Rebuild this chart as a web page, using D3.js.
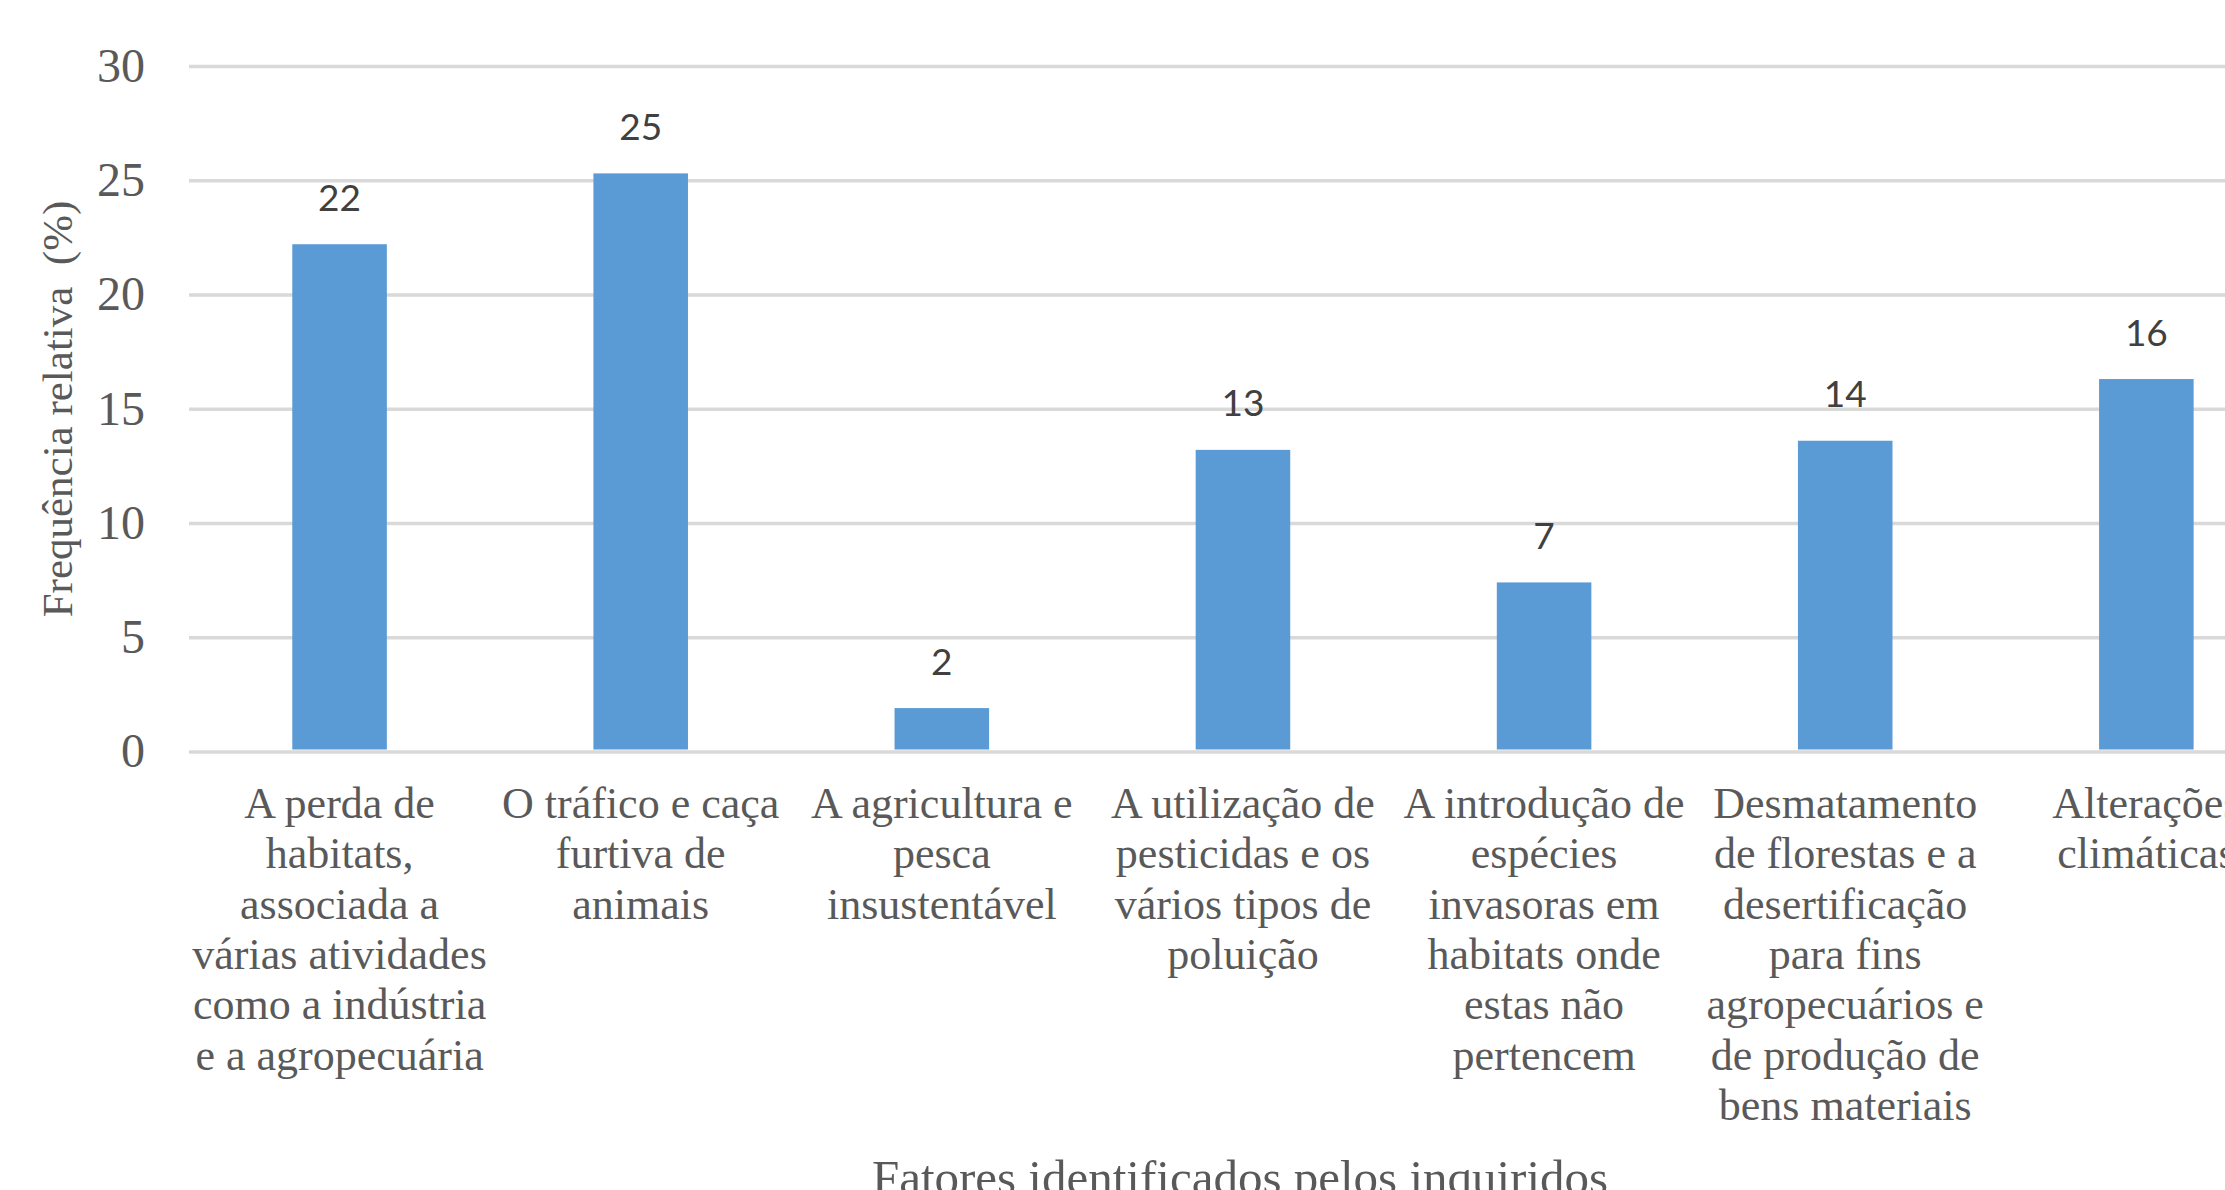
<!DOCTYPE html>
<html>
<head>
<meta charset="utf-8">
<script src="https://cdn.jsdelivr.net/npm/d3@7"></script>
<style>
  html, body { margin: 0; padding: 0; background: #ffffff; overflow: hidden; }
  svg { display: block; }
</style>
</head>
<body>
<script>
// ---- Data ----
const categories = [
  "A perda de habitats, associada a várias atividades como a indústria e a agropecuária",
  "O tráfico e caça furtiva de animais",
  "A agricultura e pesca insustentável",
  "A utilização de pesticidas e os vários tipos de poluição",
  "A introdução de espécies invasoras em habitats onde estas não pertencem",
  "Desmatamento de florestas e a desertificação para fins agropecuários e de produção de bens materiais",
  "Alterações climáticas"
];
const categoryLines = [
  ["A perda de", "habitats,", "associada a", "várias atividades", "como a indústria", "e a agropecuária"],
  ["O tráfico e caça", "furtiva de", "animais"],
  ["A agricultura e", "pesca", "insustentável"],
  ["A utilização de", "pesticidas e os", "vários tipos de", "poluição"],
  ["A introdução de", "espécies", "invasoras em", "habitats onde", "estas não", "pertencem"],
  ["Desmatamento", "de florestas e a", "desertificação", "para fins", "agropecuários e", "de produção de", "bens materiais"],
  ["Alterações", "climáticas"]
];
const values = [22.2, 25.3, 1.9, 13.2, 7.4, 13.6, 16.3];
const yTicks = [0, 5, 10, 15, 20, 25, 30];
const yTitle = "Frequência relativa  (%)";
const xTitle = "Fatores identificados pelos inquiridos";

// ---- Layout ----
const W = 2225, H = 1190;
const x0 = 189, step = 301.13;
const x1 = x0 + step * categories.length;
const yBottom = 751.5, yTop = 66;

const svg = d3.select("body").append("svg")
  .attr("width", W).attr("height", H)
  .attr("viewBox", `0 0 ${W} ${H}`);
svg.append("rect").attr("width", W).attr("height", H).attr("fill", "#ffffff");

const x = d3.scaleBand()
  .domain(categories)
  .range([x0, x1])
  .paddingInner(0.686)
  .paddingOuter(0.343);

const y = d3.scaleLinear().domain([0, 30]).range([yBottom, yTop]);

const serif = "'Liberation Serif', 'Times New Roman', serif";
const textGray = "#595959";

// Y axis with gridlines
const yAxis = d3.axisLeft(y)
  .tickValues(yTicks)
  .tickSizeInner(-(W - x0 + 20))
  .tickSizeOuter(0)
  .tickPadding(44)
  .tickFormat(d3.format("d"));

const gy = svg.append("g")
  .attr("transform", `translate(${x0},0)`)
  .call(yAxis);
gy.select(".domain").remove();
gy.selectAll(".tick line")
  .attr("stroke", "#d9d9d9")
  .attr("stroke-width", 3.5);
gy.selectAll(".tick text")
  .attr("fill", textGray)
  .style("font-family", serif)
  .style("font-size", "48px");

// Bars
svg.append("g").selectAll("rect.bar")
  .data(values)
  .join("rect")
  .attr("class", "bar")
  .attr("x", (d, i) => x(categories[i]))
  .attr("width", x.bandwidth())
  .attr("y", d => y(d))
  .attr("height", d => y(0) - y(d) - 2)
  .attr("fill", "#5b9bd5");

// Data labels
const fmt = d3.format(".0f");
svg.append("g").selectAll("text.lbl")
  .data(values)
  .join("text")
  .attr("class", "lbl")
  .attr("x", (d, i) => x(categories[i]) + x.bandwidth() / 2)
  .attr("y", d => y(d) - 33.5)
  .attr("text-anchor", "middle")
  .attr("fill", "#404040")
  .style("font-family", "Lato, 'Open Sans', sans-serif")
  .style("font-size", "37px")
  .text(d => fmt(d));

// Category labels
const catG = svg.append("g");
categories.forEach((c, i) => {
  const t = catG.append("text")
    .attr("x", x(c) + x.bandwidth() / 2)
    .attr("y", 818)
    .attr("text-anchor", "middle")
    .attr("fill", textGray)
    .style("font-family", serif)
    .style("font-size", "44px");
  categoryLines[i].forEach((line, j) => {
    t.append("tspan")
      .attr("x", x(c) + x.bandwidth() / 2)
      .attr("dy", j === 0 ? 0 : 50.3)
      .text(line);
  });
});

// Y title
svg.append("text")
  .attr("transform", `translate(72,409) rotate(-90)`)
  .attr("text-anchor", "middle")
  .attr("fill", textGray)
  .style("font-family", serif)
  .style("font-size", "43px")
  .style("white-space", "pre")
  .attr("xml:space", "preserve")
  .text(yTitle);

// X title
svg.append("text")
  .attr("x", 1240)
  .attr("y", 1194)
  .attr("text-anchor", "middle")
  .attr("fill", textGray)
  .style("font-family", serif)
  .style("font-size", "49px")
  .text(xTitle);
</script>
</body>
</html>
